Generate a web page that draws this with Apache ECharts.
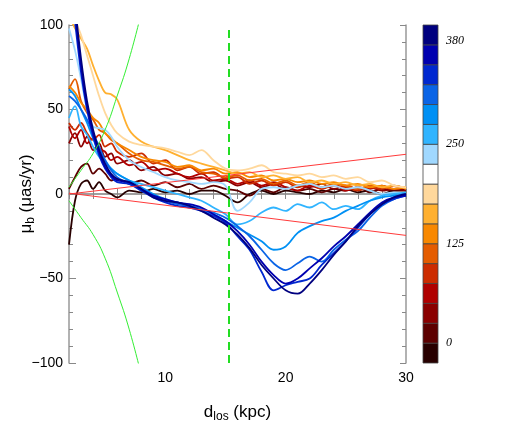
<!DOCTYPE html>
<html>
<head>
<meta charset="utf-8">
<script src="https://cdn.jsdelivr.net/npm/echarts@6/dist/echarts.min.js"></script>
<style>
html, body { margin: 0; padding: 0; background: #fff; }
#chart { width: 510px; height: 440px; }
</style>
</head>
<body>
<div id="chart"></div>
<script>
// distance along line of sight (kpc)
const dist = [2, 2.5, 3, 3.5, 4, 4.5, 5, 5.5, 6, 7, 8, 9, 10, 11, 12, 13, 14, 15, 16, 17, 18, 19, 20, 21, 22, 23, 24, 25, 26, 27, 28, 29, 30]

// mu_b profiles, one per colour level (dark brown -> navy)
const mu00 = [-30, -4, 6, 8, 3, 7, 2, 0, -2, 2, 1, 3, 1, 2, 0, 2, 2, -1, -5, 0, 2, 0, 2, 1, 0, 2, 1, 3, 1, 2, 0, 2, 2]
const mu01 = [3, 10, 16, 18, 12, 15, 12, 8, 9, 6, 8, 5, 7, 4, 6, 3, 5, 3, 2, -1, 3, 1, 4, 2, 3, 1, 3, 2, 4, 1, 3, 2, 3]
const mu02 = [30, 36, 28, 34, 26, 30, 22, 24, 18, 20, 14, 16, 11, 12, 9, 10, 7, 8, 5, 7, 4, 6, 3, 5, 4, 6, 3, 5, 3, 4, 2, 3, 2]
const mu03 = [40, 33, 38, 30, 33, 27, 25, 20, 22, 17, 19, 14, 15, 12, 10, 12, 8, 9, 6, 8, 5, 7, 4, 2, 5, 3, 6, 2, 4, 3, 5, 3, 4]
const mu04 = [42, 38, 42, 36, 32, 35, 28, 30, 25, 22, 24, 18, 20, 14, 16, 12, 13, 9, 10, 6, 8, 5, 7, 4, 6, 3, 5, 4, 2, 4, 3, 5, 3]
const mu05 = [62, 68, 55, 48, 44, 38, 36, 32, 30, 24, 20, 19, 17, 15, 16, 13, 12, 10, 11, 8, 9, 6, 8, 5, 7, 4, 6, 5, 3, 5, 4, 3, 4]
const mu06 = [64, 60, 54, 50, 45, 42, 36, 33, 30, 26, 22, 20, 19, 16, 17, 14, 15, 12, 13, 10, 11, 8, 9, 7, 8, 6, 7, 5, 6, 4, 5, 3, 4]
const mu07 = [106, 98, 92, 86, 76, 67, 60, 59, 56, 38, 31, 28, 26, 23, 20, 18, 16, 14, 12, 13, 10, 11, 9, 10, 7, 8, 6, 7, 5, 6, 4, 5, 3]
const mu08 = [125, 104, 94, 82, 70, 58, 48, 41, 36, 31, 29, 28, 27, 25, 23, 26, 20, 15, 14, 15, 17, 13, 12, 11, 12, 10, 11, 9, 10, 7, 8, 5, 4]
const mu10 = [98, 85, 68, 50, 40, 39, 38, 34, 28, 20, 16, 13, 10, 8, 7, 6, 7, 5, -10, -5, 3, 4, 3, 5, 6, 4, 5, 3, 4, 2, 0, 1, 0]
const mu11 = [45, 52, 40, 35, 28, 22, 18, 15, 12, 8, 6, 4, 2, 0, -2, -4, -8, -12, -18, -16, -11, -8, -10, -6, -8, -5, -9, -7, -9, -4, -1, 0, 1]
const mu12 = [62, 58, 50, 42, 33, 25, 20, 15, 12, 8, 4, 0, -3, -5, -7, -9, -12, -16, -20, -24, -28, -33, -31, -23, -19, -16, -14, -10, -7, -4, -2, -1, 0]
const mu13 = [58, 55, 50, 44, 36, 28, 20, 14, 10, 6, 3, -1, -4, -6, -7, -9, -11, -14, -19, -25, -33, -41, -45, -41, -37, -40, -33, -27, -22, -14, -7, -3, -1]
const mu14 = [135, 102, 72, 50, 34, 23, 15, 10, 7, 6, 2, -2, -5, -7, -8, -10, -13, -17, -25, -33, -46, -57, -54, -52, -50, -42, -35, -28, -20, -12, -6, -3, -1]
const mu15 = [145, 108, 76, 52, 36, 25, 16, 11, 8, 7, 3, -1, -3, -5, -6, -8, -12, -16, -22, -30, -40, -48, -53, -50, -44, -38, -31, -25, -18, -11, -5, -2, -1]
const mu16 = [150, 112, 80, 55, 38, 26, 18, 12, 9, 7, 3, -2, -4, -5, -7, -10, -14, -18, -24, -32, -42, -50, -57, -59, -53, -45, -36, -28, -19, -12, -6, -2, 0]

const profiles = [mu00, mu01, mu02, mu03, mu04, mu05, mu06, mu07, mu08, mu10, mu11, mu12, mu13, mu14, mu15, mu16]
const profileColors = ['#280000', '#5c0000', '#8a0000', '#b00000', '#cc2c00', '#e45c00', '#f88800', '#ffb030', '#ffd89c',
  '#a0d8ff', '#30b4ff', '#0090f4', '#0a64e6', '#0028d0', '#0000b0', '#00007f']

// reference curves
const redX = [2, 30]
const redUpper = [0, 23.5]
const redLower = [0.5, -24.5]
const greenX = [2, 3, 4, 5, 6, 7, 8]
const greenUpper = [4, 14, 24, 38, 58, 80, 107]
const greenLower = [-4, -14, -24, -38, -58, -80, -107]
const cutDist = 15.25

// colour scale
const scaleEdges = [-25, 0, 25, 50, 75, 100, 125, 150, 175, 200, 225, 250, 275, 300, 325, 350, 375, 400]
const scaleColors = ['#280000', '#5c0000', '#8a0000', '#b00000', '#cc2c00', '#e45c00', '#f88800', '#ffb030', '#ffd89c',
  '#ffffff', '#a0d8ff', '#30b4ff', '#0090f4', '#0a64e6', '#0028d0', '#0000b0', '#00007f']
const scaleTicks = [0, 125, 250, 380]

const chart = echarts.init(document.getElementById('chart'), null, { renderer: 'canvas' })

const font = "'Liberation Sans', Arial, sans-serif"
const frame = { show: true, lineStyle: { color: '#999', width: 1.5 } }
const tickStyle = { color: '#888', width: 1 }

const series = profiles.map((vals, k) => ({
  type: 'line',
  xAxisIndex: 0,
  yAxisIndex: 0,
  data: dist.map((d, i) => [d, vals[i]]),
  smooth: 0.35,
  symbol: 'none',
  silent: true,
  z: 3,
  lineStyle: { color: profileColors[k], width: 1.8 }
}))

const pair = (xs, ys) => xs.map((x, i) => [x, ys[i]])
series.push(
  { type: 'line', data: pair(redX, redUpper), symbol: 'none', silent: true, z: 4, lineStyle: { color: '#ff3a3a', width: 1 } },
  { type: 'line', data: pair(redX, redLower), symbol: 'none', silent: true, z: 4, lineStyle: { color: '#ff3a3a', width: 1 } },
  { type: 'line', data: pair(greenX, greenLower), smooth: true, symbol: 'none', silent: true, z: 4, lineStyle: { color: '#33ee33', width: 1 } },
  {
    type: 'line', data: pair(greenX, greenUpper), smooth: true, symbol: 'none', silent: true, z: 4,
    lineStyle: { color: '#33ee33', width: 1 },
    markLine: {
      silent: true, symbol: 'none', label: { show: false }, z: 5,
      lineStyle: { color: '#22dd22', width: 2, type: [8, 5] },
      data: [{ xAxis: cutDist }]
    }
  },
  {
    type: 'custom',
    xAxisIndex: 2,
    yAxisIndex: 2,
    silent: true,
    encode: { y: [0, 1] },
    data: scaleColors.map((c, i) => [scaleEdges[i], scaleEdges[i + 1], i]),
    renderItem (params, api) {
      const p0 = api.coord([0, api.value(0)])
      const p1 = api.coord([1, api.value(1)])
      return {
        type: 'rect',
        shape: { x: p0[0], y: p1[1], width: p1[0] - p0[0], height: p0[1] - p1[1] },
        style: { fill: scaleColors[api.value(2)], stroke: '#444', lineWidth: 0.8 }
      }
    }
  }
)

const option = {
  animation: false,
  backgroundColor: '#fff',
  grid: [
    { left: 69, top: 25, right: 104, bottom: 77, outerBoundsMode: 'none' },
    { left: 423, top: 25, width: 15, height: 338, outerBoundsMode: 'none' }
  ],
  xAxis: [
    {
      gridIndex: 0, type: 'value', min: 2, max: 30, interval: 2, position: 'bottom',
      axisLine: frame,
      axisTick: { inside: true, length: 5, lineStyle: tickStyle },
      splitLine: { show: false },
      axisLabel: {
        formatter: v => (v % 10 === 0 ? String(v) : ''),
        color: '#000', fontSize: 14, fontFamily: font, margin: 8
      },
      name: '{i|d}{s|los}{i| (kpc)}',
      nameLocation: 'middle',
      nameGap: 38,
      nameMoveOverlap: false,
      nameTextStyle: {
        rich: {
          i: { fontSize: 17, fontFamily: font, color: '#000', lineHeight: 22 },
          s: { fontSize: 12, fontFamily: font, color: '#000', lineHeight: 12, verticalAlign: 'bottom' }
        }
      }
    },
    {
      gridIndex: 0, type: 'value', min: 2, max: 30, interval: 2, position: 'top',
      axisLine: frame,
      axisTick: { inside: true, length: 5, lineStyle: tickStyle },
      splitLine: { show: false },
      axisLabel: { show: false }
    },
    { gridIndex: 1, type: 'value', min: 0, max: 1, show: false }
  ],
  yAxis: [
    {
      gridIndex: 0, type: 'value', min: -100, max: 100, interval: 50, position: 'left',
      axisLine: frame,
      axisTick: { inside: true, length: 7, lineStyle: tickStyle },
      minorTick: { show: true, splitNumber: 5, length: 4, lineStyle: tickStyle },
      splitLine: { show: false },
      minorSplitLine: { show: false },
      axisLabel: {
        formatter: v => String(v).replace('-', '\u2212'),
        color: '#000', fontSize: 14, fontFamily: font, margin: 6
      },
      name: '{i|\u03bc}{s|b}{i| (\u03bcas/yr)}',
      nameLocation: 'middle',
      nameGap: 32,
      nameRotate: 90,
      nameMoveOverlap: false,
      nameTextStyle: {
        rich: {
          i: { fontSize: 17, fontFamily: font, color: '#000', lineHeight: 22 },
          s: { fontSize: 12, fontFamily: font, color: '#000', lineHeight: 12, verticalAlign: 'bottom' }
        }
      }
    },
    {
      gridIndex: 0, type: 'value', min: -100, max: 100, interval: 50, position: 'right',
      axisLine: frame,
      axisTick: { inside: true, length: 6, lineStyle: tickStyle },
      minorTick: { show: true, splitNumber: 5, length: 4, lineStyle: tickStyle },
      splitLine: { show: false },
      axisLabel: { show: false }
    },
    {
      gridIndex: 1, type: 'value', min: -25, max: 400, position: 'right',
      axisLine: { show: false },
      axisTick: { show: true, length: 5, customValues: scaleTicks, lineStyle: { color: '#999', width: 1.5 } },
      splitLine: { show: false },
      axisLabel: {
        customValues: scaleTicks,
        color: '#000', fontSize: 12, fontStyle: 'italic',
        fontFamily: "'Liberation Serif', 'Times New Roman', serif", margin: 8
      }
    }
  ],
  series
}

chart.setOption(option)
</script>
</body>
</html>
